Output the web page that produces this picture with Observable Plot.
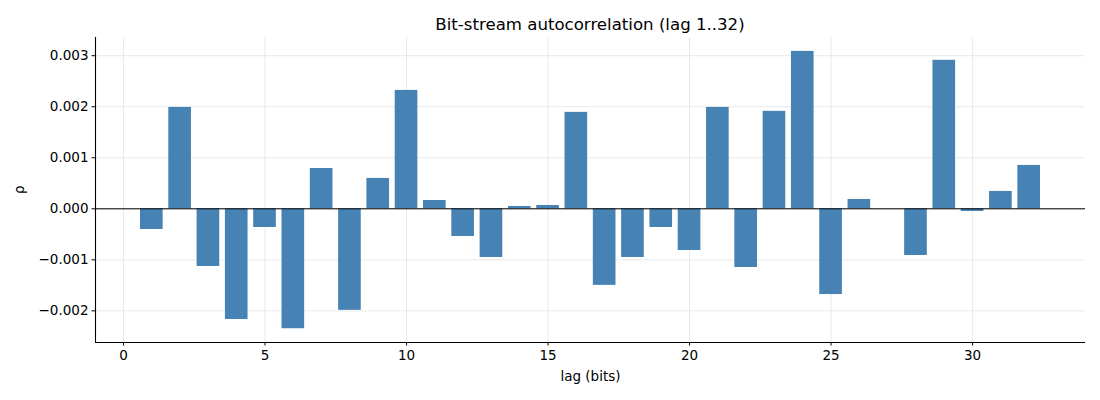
<!DOCTYPE html>
<html>
<head>
<meta charset="utf-8">
<script src="https://cdn.jsdelivr.net/npm/d3@7"></script>
<script src="https://cdn.jsdelivr.net/npm/@observablehq/plot@0.6"></script>
<style>
  html, body { margin: 0; padding: 0; background: #fff; }
  #title { width: 1100px; height: 37px; box-sizing: border-box; padding-left: 80px; text-align: center;
           font-family: "DejaVu Sans", sans-serif; font-size: 16.6px; line-height: 50px; color: #000; white-space: nowrap; overflow: visible; }
</style>
</head>
<body>
<div id="title">Bit-stream autocorrelation (lag 1..32)</div>
<div id="chart"></div>
<script>
const lags = [1,2,3,4,5,6,7,8,9,10,11,12,13,14,15,16,17,18,19,20,21,22,23,24,25,26,27,28,29,30,31,32];
const rho = [
  -0.000405, 0.001987, -0.00113, -0.00217, -0.000366, -0.00235, 0.00079, -0.00199,
  0.000595, 0.00232, 0.000163, -0.000542, -0.000954, 0.000046, 0.000065, 0.00189,
  -0.0015, -0.000954, -0.000366, -0.000817, 0.001987, -0.00115, 0.00191, 0.003085,
  -0.00168, 0.000183, 0.0, -0.000915, 0.00291, -0.000052, 0.00034, 0.00085
];
const xTicks = [0, 5, 10, 15, 20, 25, 30];
const yTicks = [-0.002, -0.001, 0, 0.001, 0.002, 0.003];
const xDomain = [-0.99, 33.99];
const yDomain = [-0.00262, 0.003357];
const barWidth = 0.8;

const data = lags.map((lag, i) => ({lag, rho: rho[i]}));
const gridColor = "#b0b0b0";

const chart = Plot.plot({
  width: 1100,
  height: 363,
  marginTop: 0,
  marginLeft: 95,
  marginRight: 15,
  marginBottom: 58,
  style: {fontFamily: "DejaVu Sans, sans-serif", fontSize: "13.5px", color: "#000", background: "#fff"},
  x: {domain: xDomain, label: null},
  y: {domain: yDomain, label: null},
  marks: [
    Plot.gridX(xTicks, {stroke: gridColor, strokeOpacity: 0.35, strokeWidth: 0.8}),
    Plot.gridY(yTicks, {stroke: gridColor, strokeOpacity: 0.35, strokeWidth: 0.8}),
    Plot.rectY(data, {x1: d => d.lag - barWidth / 2, x2: d => d.lag + barWidth / 2, y: "rho", fill: "#4682b4"}),
    Plot.ruleY([0], {stroke: "#000", strokeWidth: 1, strokeOpacity: 1}),
    Plot.ruleX([xDomain[0]], {stroke: "#000", strokeWidth: 1.1}),
    Plot.ruleY([yDomain[0]], {stroke: "#000", strokeWidth: 1.1}),
    Plot.axisY(yTicks, {tickSize: 3.5, tickPadding: 3.5, tickFormat: d3.format(".3f"), label: null, stroke: "#000", strokeOpacity: 1, fontSize: 13.5}),
    Plot.axisX(xTicks, {tickSize: 3.5, tickPadding: 4, label: null, stroke: "#000", strokeOpacity: 1, fontSize: 13.5}),
    Plot.text(["ρ"], {frameAnchor: "left", dx: -76, dy: 4, rotate: -90, fontSize: 13.5, fill: "#000"}),
    Plot.text(["lag (bits)"], {frameAnchor: "bottom", dy: 38, fontSize: 13.5, fill: "#000"})
  ]
});
document.getElementById("chart").appendChild(chart);
</script>
</body>
</html>
